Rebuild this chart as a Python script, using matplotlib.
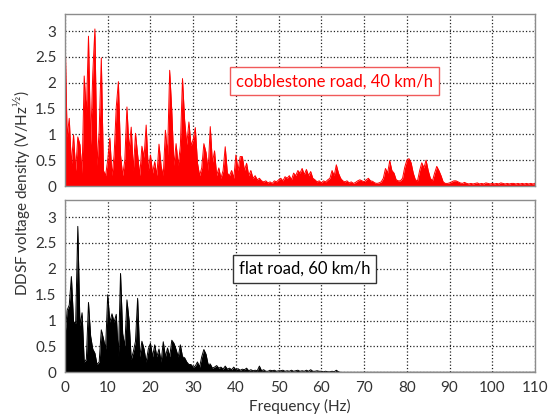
import numpy as np
import matplotlib.pyplot as plt

plt.rcParams['font.family'] = ['Lato', 'DejaVu Sans']

# spectrum sampled every 0.5 Hz, 0 ... 110 Hz
freq = np.arange(0, 110.5, 0.5)

# cobblestone road, 40 km/h
dens_cobble = [
    3.05, 0.95, 1.31, 0.40, 0.99, 0.30, 0.95, 0.80, 0.25, 2.13,
    1.39, 2.90, 0.80, 2.17, 3.04, 0.40, 1.07, 2.48, 0.30, 0.20,
    0.50, 0.93, 0.20, 0.60, 1.53, 2.02, 0.60, 0.20, 0.50, 1.53,
    0.70, 1.14, 0.30, 1.02, 0.60, 0.20, 0.77, 0.55, 1.18, 0.30,
    0.60, 0.25, 0.47, 0.20, 0.81, 0.38, 0.20, 1.08, 0.60, 2.24,
    1.44, 0.40, 0.82, 0.40, 0.78, 2.08, 1.27, 0.80, 1.24, 0.78,
    0.90, 1.13, 0.45, 0.20, 0.35, 0.82, 0.65, 0.30, 1.15, 0.45,
    0.68, 0.20, 0.35, 0.15, 0.30, 0.76, 0.25, 0.20, 0.30, 0.15,
    0.60, 0.30, 0.57, 0.57, 0.30, 0.44, 0.20, 0.30, 0.15, 0.20,
    0.12, 0.15, 0.10, 0.08, 0.10, 0.06, 0.08, 0.05, 0.10, 0.08,
    0.12, 0.15, 0.10, 0.18, 0.15, 0.20, 0.12, 0.25, 0.20, 0.30,
    0.25, 0.34, 0.22, 0.32, 0.20, 0.28, 0.15, 0.12, 0.08, 0.10,
    0.06, 0.10, 0.08, 0.12, 0.15, 0.30, 0.20, 0.41, 0.25, 0.15,
    0.10, 0.08, 0.10, 0.06, 0.08, 0.05, 0.07, 0.10, 0.12, 0.10,
    0.08, 0.12, 0.15, 0.10, 0.09, 0.06, 0.05, 0.06, 0.08, 0.15,
    0.34, 0.25, 0.49, 0.30, 0.25, 0.12, 0.10, 0.10, 0.15, 0.36,
    0.50, 0.53, 0.45, 0.25, 0.12, 0.10, 0.30, 0.45, 0.35, 0.50,
    0.30, 0.15, 0.10, 0.25, 0.38, 0.30, 0.20, 0.08, 0.05, 0.05,
    0.06, 0.08, 0.10, 0.10, 0.08, 0.06, 0.05, 0.07, 0.05, 0.04,
    0.05, 0.04, 0.05, 0.06, 0.04, 0.05, 0.04, 0.06, 0.05, 0.04,
    0.05, 0.04, 0.05, 0.04, 0.06, 0.05, 0.04, 0.05, 0.04, 0.05,
    0.05, 0.04, 0.05, 0.04, 0.05, 0.04, 0.05, 0.04, 0.05, 0.04,
    0.05,
]

# flat road, 60 km/h
dens_flat = [
    0.69, 1.20, 1.30, 1.85, 0.98, 0.95, 2.82, 0.90, 1.15, 0.20,
    0.25, 1.35, 0.70, 0.45, 0.37, 0.15, 0.20, 0.82, 0.65, 0.45,
    1.50, 0.97, 1.13, 0.97, 1.12, 0.30, 1.91, 0.75, 0.50, 1.40,
    1.00, 0.25, 0.40, 0.60, 1.43, 0.30, 0.60, 0.45, 0.20, 0.45,
    0.56, 0.30, 0.53, 0.30, 0.45, 0.20, 0.59, 0.30, 0.47, 0.30,
    0.62, 0.56, 0.44, 0.30, 0.53, 0.30, 0.28, 0.20, 0.15, 0.15,
    0.10, 0.12, 0.20, 0.10, 0.30, 0.44, 0.35, 0.15, 0.16, 0.08,
    0.10, 0.13, 0.08, 0.10, 0.06, 0.12, 0.06, 0.08, 0.05, 0.10,
    0.05, 0.07, 0.04, 0.06, 0.05, 0.08, 0.03, 0.05, 0.03, 0.04,
    0.03, 0.12, 0.03, 0.05, 0.02, 0.02, 0.04, 0.03, 0.04, 0.02,
    0.03, 0.03, 0.04, 0.02, 0.03, 0.02, 0.04, 0.02, 0.03, 0.04,
    0.02, 0.03, 0.02, 0.04, 0.02, 0.05, 0.02, 0.02, 0.03, 0.02,
    0.02, 0.01, 0.02, 0.01, 0.01, 0.02, 0.01, 0.04, 0.01, 0.00,
    0.00, 0.00, 0.00, 0.00, 0.00, 0.00, 0.00, 0.00, 0.00, 0.00,
    0.00, 0.00, 0.00, 0.00, 0.00, 0.00, 0.00, 0.00, 0.00, 0.00,
    0.00, 0.00, 0.00, 0.00, 0.00, 0.00, 0.00, 0.00, 0.00, 0.00,
    0.00, 0.00, 0.00, 0.00, 0.00, 0.00, 0.00, 0.00, 0.00, 0.00,
    0.00, 0.00, 0.00, 0.00, 0.00, 0.00, 0.00, 0.00, 0.00, 0.00,
    0.00, 0.00, 0.00, 0.00, 0.00, 0.00, 0.00, 0.00, 0.00, 0.00,
    0.00, 0.00, 0.00, 0.00, 0.00, 0.00, 0.00, 0.00, 0.00, 0.00,
    0.00, 0.00, 0.00, 0.00, 0.00, 0.00, 0.00, 0.00, 0.00, 0.00,
    0.00, 0.00, 0.00, 0.00, 0.00, 0.00, 0.00, 0.00, 0.00, 0.00,
    0.00,
]

labels = ["cobblestone road, 40 km/h", "flat road, 60 km/h"]
colors = ["#ff0000", "#000000"]
box_edges = ["#f05a5a", "#333333"]
label_pos = [(63, 2.03), (56, 2.0)]

fig = plt.figure(figsize=(5.53, 4.15), dpi=100)
ax_top = fig.add_axes([0.1175, 0.5518, 0.85, 0.4145])
ax_bot = fig.add_axes([0.1175, 0.1029, 0.85, 0.4152])

for ax, dens, lab, col, ec, pos in zip(
    [ax_top, ax_bot], [dens_cobble, dens_flat], labels, colors, box_edges, label_pos
):
    ax.fill_between(freq, 0, dens, color=col, linewidth=0, zorder=2)
    ax.plot(freq, dens, color=col, linewidth=0.7, zorder=2)

    ax.set_xlim(0, 110)
    ax.set_ylim(0, 3.33)
    ax.set_xticks(np.arange(0, 111, 10))
    ax.set_yticks(np.arange(0, 3.01, 0.5))
    ax.set_yticklabels(["0", "0.5", "1", "1.5", "2", "2.5", "3"])
    ax.grid(True, linestyle=":", color="#222222", linewidth=0.9, zorder=1)
    ax.set_axisbelow(True)
    ax.tick_params(length=0, labelsize=11, pad=6, colors="#333333")
    for s in ax.spines.values():
        s.set_color("#8c8c8c")
        s.set_linewidth(1.0)

    ax.text(
        pos[0], pos[1], lab,
        ha="center", va="center", fontsize=12, color=col, zorder=5,
        bbox=dict(boxstyle="square,pad=0.35", fc="white", ec=ec, lw=1.0),
    )

ax_top.set_xticklabels([])
ax_bot.set_xlabel("Frequency (Hz)", fontsize=11, color="#333333", labelpad=3)

fig.text(0.04, 0.535, "DDSF voltage density (V/Hz$^{\u00bd}$)",
         rotation=90, ha="center", va="center", fontsize=11, color="#333333")

fig.savefig("out.png", dpi=100)
